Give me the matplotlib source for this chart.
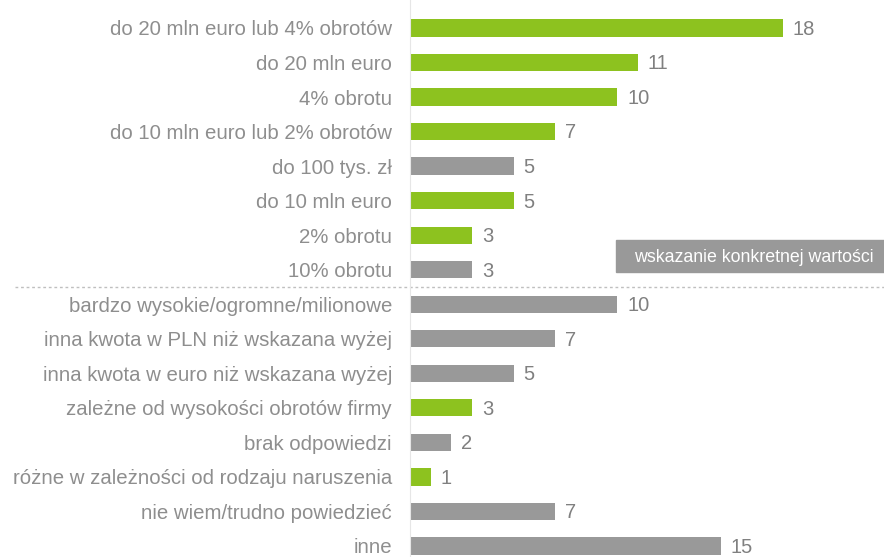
import matplotlib.pyplot as plt
from matplotlib.patches import Rectangle
from matplotlib.transforms import blended_transform_factory

plt.rcParams['font.family'] = ['Liberation Sans', 'DejaVu Sans']

# Data (top to bottom)
categories = [
    'do 20 mln euro lub 4% obrotów',
    'do 20 mln euro',
    '4% obrotu',
    'do 10 mln euro lub 2% obrotów',
    'do 100 tys. zł',
    'do 10 mln euro',
    '2% obrotu',
    '10% obrotu',
    'bardzo wysokie/ogromne/milionowe',
    'inna kwota w PLN niż wskazana wyżej',
    'inna kwota w euro niż wskazana wyżej',
    'zależne od wysokości obrotów firmy',
    'brak odpowiedzi',
    'różne w zależności od rodzaju naruszenia',
    'nie wiem/trudno powiedzieć',
    'inne',
]
values = [18, 11, 10, 7, 5, 5, 3, 3, 10, 7, 5, 3, 2, 1, 7, 15]
is_green = [1, 1, 1, 1, 0, 1, 1, 0, 0, 0, 0, 1, 0, 1, 0, 0]
box_label = 'wskazanie konkretnej wartości'

GREEN = '#8dc21f'
GREY = '#999999'
TEXT = '#8e8e8e'

fig = plt.figure(figsize=(8.84, 5.57), dpi=100)
ax = fig.add_axes([0.4638, 0, 0.5362, 1])

colours = [GREEN if g else GREY for g in is_green]
ypos = list(range(len(categories)))
ax.barh(ypos, values, height=0.5, color=colours)

ax.set_xlim(0, 22.88)
ax.set_ylim(15.32, -0.81)

# value labels
for y, v in zip(ypos, values):
    ax.text(v + 0.48, y + 0.04, str(v), va='center', ha='left', fontsize=14.5, color='#808080')

ax.set_yticks(ypos)
ax.set_yticklabels(categories, fontsize=14.7, color=TEXT)
ax.tick_params(axis='y', length=0, pad=13)
ax.set_xticks([])
for s in ['top', 'right', 'bottom']:
    ax.spines[s].set_visible(False)
ax.spines['left'].set_color('#e6e6e6')
ax.spines['left'].set_linewidth(0.8)

# dashed separator between the two groups
trans = blended_transform_factory(fig.transFigure, ax.transData)
ax.plot([0.017, 1.0], [7.5, 7.5], transform=trans, clip_on=False,
        color='#bfbfbf', linestyle=(0, (2, 2)), linewidth=1)

# grey label box
ax.add_patch(Rectangle((9.95, 6.14), 12.93, 0.93, color=GREY, clip_on=False))
ax.text(16.6, 6.64, box_label, ha='center', va='center', fontsize=12.8, color='white')

fig.savefig('out.png', dpi=100)
